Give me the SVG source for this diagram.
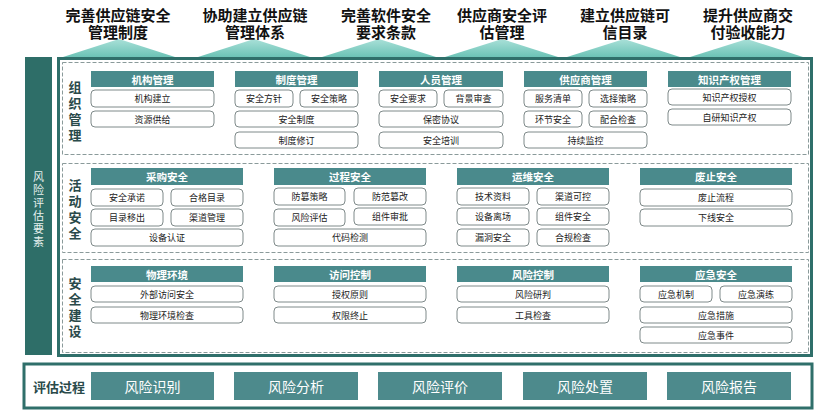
<svg xmlns="http://www.w3.org/2000/svg" width="832" height="420" viewBox="0 0 832 420">
<defs>
<linearGradient id="tri" x1="0" y1="0" x2="0" y2="1"><stop offset="0" stop-color="#a9e0d8"/><stop offset="1" stop-color="#6cc3b6"/></linearGradient>
</defs>
<style>
text{font-family:"Noto Sans CJK SC","Noto Sans",sans-serif;text-anchor:middle;dominant-baseline:central}
.t{font-size:15px;font-weight:bold;fill:#111}
.h{fill:#4a8a8c}
.ht{font-size:10.5px;font-weight:bold;fill:#fff}
.i{fill:#fff;stroke:#7f8a8a;stroke-width:1}
.it{font-size:9px;fill:#222}
.sec{fill:none;stroke:#8a9a9a;stroke-width:1;stroke-dasharray:4 2}
.sl{font-size:13px;font-weight:bold;fill:#2a4a4a}
.v{font-size:11px;fill:#e6f0ee}
.b{fill:#4d8a8c}
.bt{font-size:14px;fill:#fff}
</style>
<g id="titles">
<polygon fill="url(#tri)" points="63,57 119,39 175,57"/>
<polygon fill="url(#tri)" points="198,57 254,39 310,57"/>
<polygon fill="url(#tri)" points="322,57 379,39 436,57"/>
<polygon fill="url(#tri)" points="445,57 502,39 558,57"/>
<polygon fill="url(#tri)" points="567,57 624,39 680,57"/>
<polygon fill="url(#tri)" points="690,57 747,39 803,57"/>
<text class="t" x="118" y="14">完善供应链安全</text><text class="t" x="118" y="31">管理制度</text>
<text class="t" x="255" y="14">协助建立供应链</text><text class="t" x="255" y="31">管理体系</text>
<text class="t" x="386" y="14">完善软件安全</text><text class="t" x="386" y="31">要求条款</text>
<text class="t" x="502" y="14">供应商安全评</text><text class="t" x="502" y="31">估管理</text>
<text class="t" x="625" y="14">建立供应链可</text><text class="t" x="625" y="31">信目录</text>
<text class="t" x="748" y="14">提升供应商交</text><text class="t" x="748" y="31">付验收能力</text>
</g>
<g id="leftbar">
<rect x="25" y="57" width="27" height="298" fill="#2e6e68"/>
<text class="v" x="38.5" y="176">风</text>
<text class="v" x="38.5" y="189">险</text>
<text class="v" x="38.5" y="202">评</text>
<text class="v" x="38.5" y="215">估</text>
<text class="v" x="38.5" y="228">要</text>
<text class="v" x="38.5" y="241">素</text>
</g>
<g id="frame">
<rect x="58.5" y="58.5" width="753" height="297" fill="#fff" stroke="#2f6f6a" stroke-width="3"/>
<rect class="sec" x="62.5" y="62.5" width="746" height="92"/>
<rect class="sec" x="62.5" y="163.5" width="746" height="89"/>
<rect class="sec" x="62.5" y="259.5" width="746" height="93"/>
<text class="sl" x="75" y="86">组</text><text class="sl" x="75" y="102">织</text><text class="sl" x="75" y="118">管</text><text class="sl" x="75" y="134">理</text>
<text class="sl" x="75" y="184">活</text><text class="sl" x="75" y="200">动</text><text class="sl" x="75" y="216">安</text><text class="sl" x="75" y="232">全</text>
<text class="sl" x="75" y="282">安</text><text class="sl" x="75" y="298">全</text><text class="sl" x="75" y="314">建</text><text class="sl" x="75" y="330">设</text>
</g>
<g id="s1">
<g id="g-jigou"><rect class="h" x="91" y="71" width="123" height="16"/><text class="ht" x="152.5" y="79">机构管理</text>
<rect class="i" x="91" y="90" width="123" height="17" rx="4"/><text class="it" x="152.5" y="98.5">机构建立</text>
<rect class="i" x="91" y="111" width="123" height="16" rx="4"/><text class="it" x="152.5" y="119">资源供给</text></g>
<g id="g-zhidu"><rect class="h" x="235" y="71" width="123" height="16"/><text class="ht" x="296.5" y="79">制度管理</text>
<rect class="i" x="235" y="90" width="58" height="17" rx="4"/><text class="it" x="264" y="98.5">安全方针</text>
<rect class="i" x="300" y="90" width="58" height="17" rx="4"/><text class="it" x="329" y="98.5">安全策略</text>
<rect class="i" x="235" y="111" width="123" height="16" rx="4"/><text class="it" x="296.5" y="119">安全制度</text>
<rect class="i" x="235" y="132" width="123" height="16" rx="4"/><text class="it" x="296.5" y="140">制度修订</text></g>
<g id="g-renyuan"><rect class="h" x="379" y="71" width="124" height="16"/><text class="ht" x="441" y="79">人员管理</text>
<rect class="i" x="379" y="90" width="58" height="17" rx="4"/><text class="it" x="408" y="98.5">安全要求</text>
<rect class="i" x="444" y="90" width="59" height="17" rx="4"/><text class="it" x="473.5" y="98.5">背景审查</text>
<rect class="i" x="379" y="111" width="124" height="16" rx="4"/><text class="it" x="441" y="119">保密协议</text>
<rect class="i" x="379" y="132" width="124" height="16" rx="4"/><text class="it" x="441" y="140">安全培训</text></g>
<g id="g-gys"><rect class="h" x="524" y="71" width="123" height="16"/><text class="ht" x="585.5" y="79">供应商管理</text>
<rect class="i" x="524" y="90" width="58" height="17" rx="4"/><text class="it" x="553" y="98.5">服务清单</text>
<rect class="i" x="589" y="90" width="58" height="17" rx="4"/><text class="it" x="618" y="98.5">选择策略</text>
<rect class="i" x="524" y="111" width="58" height="16" rx="4"/><text class="it" x="553" y="119">环节安全</text>
<rect class="i" x="589" y="111" width="58" height="16" rx="4"/><text class="it" x="618" y="119">配合检查</text>
<rect class="i" x="524" y="132" width="123" height="16" rx="4"/><text class="it" x="585.5" y="140">持续监控</text></g>
<g id="g-zscq"><rect class="h" x="668" y="71" width="123" height="16"/><text class="ht" x="729.5" y="79">知识产权管理</text>
<rect class="i" x="668" y="89" width="123" height="16" rx="4"/><text class="it" x="729.5" y="97">知识产权授权</text>
<rect class="i" x="668" y="109" width="123" height="16" rx="4"/><text class="it" x="729.5" y="117">自研知识产权</text></g>
</g>
<g id="s2">
<g id="g-caigou"><rect class="h" x="91" y="168" width="152" height="17"/><text class="ht" x="167" y="176.5">采购安全</text>
<rect class="i" x="91" y="189" width="72" height="17" rx="4"/><text class="it" x="127" y="197.5">安全承诺</text>
<rect class="i" x="171" y="189" width="72" height="17" rx="4"/><text class="it" x="207" y="197.5">合格目录</text>
<rect class="i" x="91" y="209" width="72" height="17" rx="4"/><text class="it" x="127" y="217.5">目录移出</text>
<rect class="i" x="171" y="209" width="72" height="17" rx="4"/><text class="it" x="207" y="217.5">渠道管理</text>
<rect class="i" x="91" y="229" width="152" height="17" rx="4"/><text class="it" x="167" y="237.5">设备认证</text></g>
<g id="g-guocheng"><rect class="h" x="274" y="168" width="152" height="17"/><text class="ht" x="350" y="176.5">过程安全</text>
<rect class="i" x="274" y="188" width="71" height="17" rx="4"/><text class="it" x="309.5" y="196.5">防篡策略</text>
<rect class="i" x="354" y="188" width="72" height="17" rx="4"/><text class="it" x="390" y="196.5">防范篡改</text>
<rect class="i" x="274" y="209" width="71" height="17" rx="4"/><text class="it" x="309.5" y="217.5">风险评估</text>
<rect class="i" x="354" y="208" width="72" height="17" rx="4"/><text class="it" x="390" y="216.5">组件审批</text>
<rect class="i" x="274" y="229" width="152" height="17" rx="4"/><text class="it" x="350" y="237.5">代码检测</text></g>
<g id="g-yunwei"><rect class="h" x="457" y="168" width="152" height="17"/><text class="ht" x="533" y="176.5">运维安全</text>
<rect class="i" x="457" y="188" width="72" height="17" rx="4"/><text class="it" x="493" y="196.5">技术资料</text>
<rect class="i" x="537" y="188" width="72" height="17" rx="4"/><text class="it" x="573" y="196.5">渠道可控</text>
<rect class="i" x="457" y="208" width="72" height="17" rx="4"/><text class="it" x="493" y="216.5">设备离场</text>
<rect class="i" x="537" y="208" width="72" height="17" rx="4"/><text class="it" x="573" y="216.5">组件安全</text>
<rect class="i" x="457" y="229" width="72" height="17" rx="4"/><text class="it" x="493" y="237.5">漏洞安全</text>
<rect class="i" x="537" y="229" width="72" height="17" rx="4"/><text class="it" x="573" y="237.5">合规检查</text></g>
<g id="g-feizhi"><rect class="h" x="640" y="168" width="152" height="17"/><text class="ht" x="716" y="176.5">废止安全</text>
<rect class="i" x="640" y="189" width="152" height="17" rx="4"/><text class="it" x="716" y="197.5">废止流程</text>
<rect class="i" x="640" y="209" width="152" height="17" rx="4"/><text class="it" x="716" y="217.5">下线安全</text></g>
</g>
<g id="s3">
<g id="g-wuli"><rect class="h" x="91" y="266" width="152" height="16"/><text class="ht" x="167" y="274">物理环境</text>
<rect class="i" x="91" y="286" width="152" height="16" rx="4"/><text class="it" x="167" y="294">外部访问安全</text>
<rect class="i" x="91" y="307" width="152" height="16" rx="4"/><text class="it" x="167" y="315">物理环境检查</text></g>
<g id="g-fangwen"><rect class="h" x="274" y="266" width="152" height="16"/><text class="ht" x="350" y="274">访问控制</text>
<rect class="i" x="274" y="286" width="152" height="16" rx="4"/><text class="it" x="350" y="294">授权原则</text>
<rect class="i" x="274" y="307" width="152" height="16" rx="4"/><text class="it" x="350" y="315">权限终止</text></g>
<g id="g-fengxian"><rect class="h" x="457" y="266" width="152" height="16"/><text class="ht" x="533" y="274">风险控制</text>
<rect class="i" x="457" y="286" width="152" height="16" rx="4"/><text class="it" x="533" y="294">风险研判</text>
<rect class="i" x="457" y="307" width="152" height="16" rx="4"/><text class="it" x="533" y="315">工具检查</text></g>
<g id="g-yingji"><rect class="h" x="640" y="266" width="152" height="16"/><text class="ht" x="716" y="274">应急安全</text>
<rect class="i" x="640" y="286" width="72" height="16" rx="4"/><text class="it" x="676" y="294">应急机制</text>
<rect class="i" x="720" y="286" width="72" height="16" rx="4"/><text class="it" x="756" y="294">应急演练</text>
<rect class="i" x="640" y="307" width="152" height="16" rx="4"/><text class="it" x="716" y="315">应急措施</text>
<rect class="i" x="640" y="327" width="152" height="16" rx="4"/><text class="it" x="716" y="335">应急事件</text></g>
</g>
<g id="process">
<rect x="24" y="364" width="788" height="44" fill="#fff" stroke="#2f6f6a" stroke-width="3"/>
<text x="59" y="386" style="font-size:13px;font-weight:bold;fill:#2a4a4a">评估过程</text>
<rect class="b" x="91" y="372" width="123" height="28"/><text class="bt" x="152.5" y="386">风险识别</text>
<rect class="b" x="234" y="372" width="124" height="28"/><text class="bt" x="296" y="386">风险分析</text>
<rect class="b" x="378" y="372" width="124" height="28"/><text class="bt" x="440" y="386">风险评价</text>
<rect class="b" x="523" y="372" width="124" height="28"/><text class="bt" x="585" y="386">风险处置</text>
<rect class="b" x="667" y="372" width="124" height="28"/><text class="bt" x="729" y="386">风险报告</text>
</g>
</svg>
